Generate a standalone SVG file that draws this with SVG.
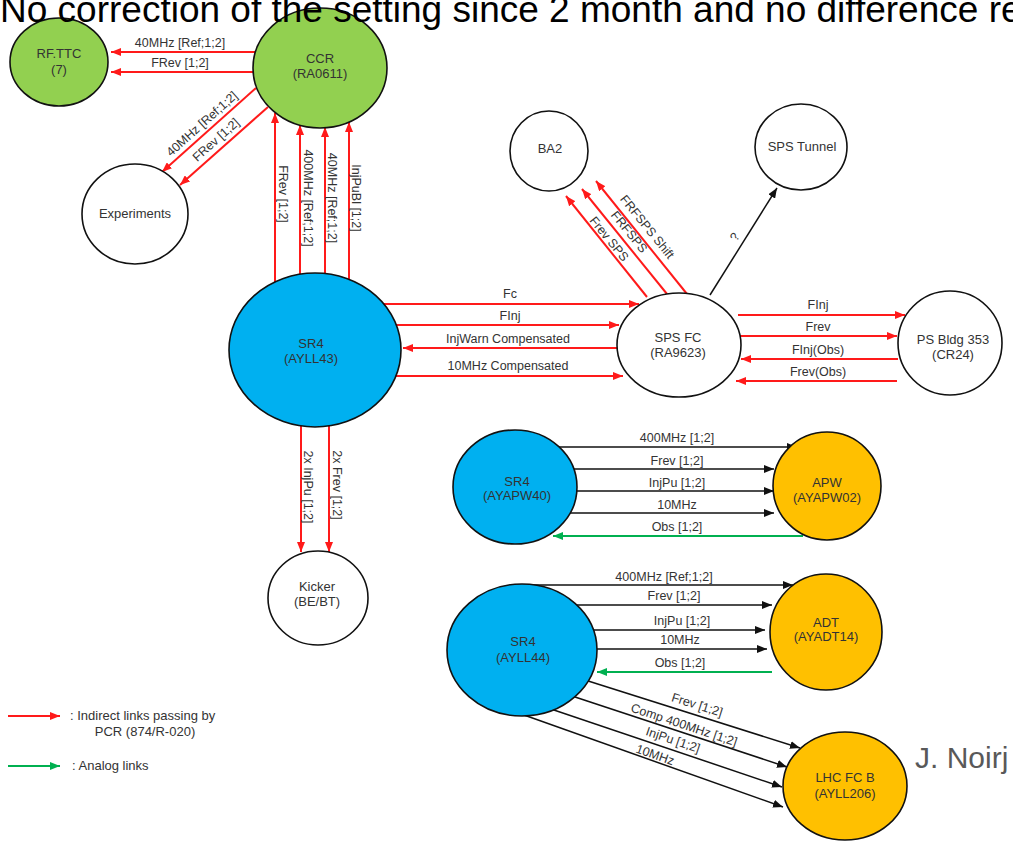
<svg xmlns="http://www.w3.org/2000/svg" width="1013" height="845" viewBox="0 0 1013 845">
<defs>
<marker id="ar" markerUnits="userSpaceOnUse" markerWidth="10" markerHeight="8" refX="10" refY="4" orient="auto"><path d="M0,0 L10,4 L0,8 z" fill="#ff1a1a"/></marker>
<marker id="ab" markerUnits="userSpaceOnUse" markerWidth="10" markerHeight="8" refX="10" refY="4" orient="auto"><path d="M0,0 L10,4 L0,8 z" fill="#111"/></marker>
<marker id="ag" markerUnits="userSpaceOnUse" markerWidth="10" markerHeight="8" refX="10" refY="4" orient="auto"><path d="M0,0 L10,4 L0,8 z" fill="#00b050"/></marker>
<style>
.r{stroke:#ff1a1a;stroke-width:2;fill:none;marker-end:url(#ar)}
.b{stroke:#111;stroke-width:1.5;fill:none;marker-end:url(#ab)}
.g{stroke:#00b050;stroke-width:2;fill:none;marker-end:url(#ag)}
.n{stroke:#111;stroke-width:1.6}
.t{font-family:"Liberation Sans",Arial,sans-serif;font-size:13px;fill:#333;text-anchor:middle}
.l{font-family:"Liberation Sans",Arial,sans-serif;font-size:12.5px;fill:#333;text-anchor:middle}
.lg{font-family:"Liberation Sans",Arial,sans-serif;font-size:13px;fill:#333}
</style>
</defs>
<rect width="1013" height="845" fill="#fff"/>
<g id="connectors">
<line class="r" x1="255" y1="52" x2="111" y2="52"/>
<text class="l" x="180" y="47">40MHz [Ref;1;2]</text>
<line class="r" x1="253" y1="72" x2="111" y2="72"/>
<text class="l" x="180" y="67">FRev [1;2]</text>
<line class="r" x1="256" y1="88" x2="162" y2="172"/>
<text class="l" transform="translate(202,124) rotate(-41.8)" dy="4">40MHz [Ref;1;2]</text>
<line class="r" x1="268" y1="107" x2="180" y2="185"/>
<text class="l" transform="translate(216,140) rotate(-41.8)" dy="4">FRev [1;2]</text>
<line class="r" x1="275" y1="284" x2="275" y2="113"/>
<text class="l" transform="translate(283,194) rotate(90)" dy="4">FRev [1;2]</text>
<line class="r" x1="300" y1="276" x2="300" y2="125"/>
<text class="l" transform="translate(308,198) rotate(90)" dy="4">400MHz [Ref;1;2]</text>
<line class="r" x1="325" y1="276" x2="325" y2="127"/>
<text class="l" transform="translate(332,198) rotate(90)" dy="4">40MHz [Ref;1;2]</text>
<line class="r" x1="349" y1="284" x2="349" y2="122"/>
<text class="l" transform="translate(356,198) rotate(90)" dy="4">InjPuBl [1;2]</text>
<line class="r" x1="372" y1="304" x2="639" y2="304"/>
<text class="l" x="510" y="298">Fc</text>
<line class="r" x1="380" y1="325" x2="619" y2="325"/>
<text class="l" x="510" y="320">FInj</text>
<line class="r" x1="625" y1="348" x2="403" y2="348"/>
<text class="l" x="508" y="343">InjWarn Compensated</text>
<line class="r" x1="380" y1="376" x2="623" y2="376"/>
<text class="l" x="508" y="370">10MHz Compensated</text>
<line class="r" x1="647" y1="297" x2="566" y2="196"/>
<text class="l" transform="translate(609,239) rotate(51)" dy="4">Frev SPS</text>
<line class="r" x1="667" y1="294" x2="582" y2="189"/>
<text class="l" transform="translate(629,232) rotate(51)" dy="4">FRFSPS</text>
<line class="r" x1="687" y1="294" x2="596" y2="181"/>
<text class="l" transform="translate(647,227) rotate(51)" dy="4">FRFSPS Shift</text>
<line class="b" x1="710" y1="295" x2="777" y2="188"/>
<text class="l" transform="translate(735,237) rotate(-58)" dy="4">?</text>
<line class="r" x1="738" y1="315" x2="905" y2="315"/>
<text class="l" x="818" y="309">FInj</text>
<line class="r" x1="740" y1="336" x2="897" y2="336"/>
<text class="l" x="818" y="331">Frev</text>
<line class="r" x1="898" y1="359" x2="741" y2="359"/>
<text class="l" x="818" y="354">FInj(Obs)</text>
<line class="r" x1="897" y1="381" x2="736" y2="381"/>
<text class="l" x="818" y="376">Frev(Obs)</text>
<line class="r" x1="301" y1="420" x2="301" y2="552"/>
<text class="l" transform="translate(308,487) rotate(90)" dy="4">2x InjPu [1;2]</text>
<line class="r" x1="329" y1="420" x2="329" y2="552"/>
<text class="l" transform="translate(337,485) rotate(90)" dy="4">2x Frev [1;2]</text>
<line class="b" x1="556" y1="447" x2="797" y2="447"/>
<text class="l" x="677" y="442">400MHz [1;2]</text>
<line class="b" x1="570" y1="469" x2="774" y2="469"/>
<text class="l" x="677" y="465">Frev [1;2]</text>
<line class="b" x1="572" y1="491" x2="774" y2="491"/>
<text class="l" x="677" y="487">InjPu [1;2]</text>
<line class="b" x1="570" y1="513" x2="774" y2="513"/>
<text class="l" x="677" y="509">10MHz</text>
<line class="g" x1="803" y1="536" x2="553" y2="536"/>
<text class="l" x="677" y="531">Obs [1;2]</text>
<line class="b" x1="517" y1="585" x2="793" y2="585"/>
<text class="l" x="664" y="581">400MHz [Ref;1;2]</text>
<line class="b" x1="570" y1="605" x2="772" y2="605"/>
<text class="l" x="674" y="600">Frev [1;2]</text>
<line class="b" x1="590" y1="630" x2="765" y2="630"/>
<text class="l" x="682" y="625">InjPu [1;2]</text>
<line class="b" x1="592" y1="649" x2="767" y2="649"/>
<text class="l" x="680" y="644">10MHz</text>
<line class="g" x1="772" y1="672" x2="597" y2="672"/>
<text class="l" x="680" y="667">Obs [1;2]</text>
<line class="b" x1="585" y1="680" x2="800" y2="748"/>
<text class="l" transform="translate(697,705) rotate(17.5)" dy="4">Frev [1;2]</text>
<line class="b" x1="572" y1="696" x2="787" y2="767"/>
<text class="l" transform="translate(684,725) rotate(18.3)" dy="4">Comp 400MHz [1;2]</text>
<line class="b" x1="545" y1="707" x2="782" y2="787"/>
<text class="l" transform="translate(673,740) rotate(18.7)" dy="4">InjPu [1;2]</text>
<line class="b" x1="524" y1="715" x2="783" y2="807"/>
<text class="l" transform="translate(655,755) rotate(19.5)" dy="4">10MHz</text>
</g>
<g id="rfttc"><ellipse class="n" cx="59" cy="62" rx="49" ry="44" fill="#92d050"/><text class="t" x="59" y="58">RF.TTC</text><text class="t" x="59" y="74">(7)</text></g>
<g id="ccr"><ellipse class="n" cx="320" cy="68" rx="67" ry="60" fill="#92d050"/><text class="t" x="320" y="63">CCR</text><text class="t" x="320" y="78">(RA0611)</text></g>
<g id="experiments"><ellipse class="n" cx="135" cy="214" rx="53" ry="50" fill="#fff"/><text class="t" x="135" y="218">Experiments</text></g>
<g id="sr4-ayll43"><ellipse class="n" cx="315" cy="350" rx="86" ry="77" fill="#00b0f0"/><text class="t" x="311" y="348">SR4</text><text class="t" x="311" y="363">(AYLL43)</text></g>
<g id="ba2"><ellipse class="n" cx="549" cy="151" rx="39" ry="40" fill="#fff"/><text class="t" x="550" y="153">BA2</text></g>
<g id="sps-tunnel"><ellipse class="n" cx="801" cy="147" rx="46" ry="43" fill="#fff"/><text class="t" x="802" y="151">SPS Tunnel</text></g>
<g id="sps-fc"><ellipse class="n" cx="679" cy="345" rx="62" ry="52" fill="#fff"/><text class="t" x="678" y="342">SPS FC</text><text class="t" x="678" y="357">(RA9623)</text></g>
<g id="ps-bldg"><ellipse class="n" cx="950" cy="343" rx="52" ry="52" fill="#fff"/><text class="t" x="953" y="344">PS Bldg 353</text><text class="t" x="953" y="359">(CR24)</text></g>
<g id="kicker"><ellipse class="n" cx="318" cy="598" rx="50" ry="47" fill="#fff"/><text class="t" x="317" y="591">Kicker</text><text class="t" x="317" y="606">(BE/BT)</text></g>
<g id="sr4-ayapw40"><ellipse class="n" cx="515" cy="487" rx="62" ry="57" fill="#00b0f0"/><text class="t" x="517" y="486">SR4</text><text class="t" x="517" y="500">(AYAPW40)</text></g>
<g id="apw"><ellipse class="n" cx="827" cy="486" rx="54" ry="54" fill="#ffc000"/><text class="t" x="827" y="487">APW</text><text class="t" x="827" y="502">(AYAPW02)</text></g>
<g id="sr4-ayll44"><ellipse class="n" cx="522" cy="650" rx="75" ry="66" fill="#00b0f0"/><text class="t" x="523" y="646">SR4</text><text class="t" x="523" y="662">(AYLL44)</text></g>
<g id="adt"><ellipse class="n" cx="826" cy="632" rx="56" ry="58" fill="#ffc000"/><text class="t" x="826" y="627">ADT</text><text class="t" x="826" y="641">(AYADT14)</text></g>
<g id="lhc-fc-b"><ellipse class="n" cx="845" cy="786" rx="62" ry="54" fill="#ffc000"/><text class="t" x="845" y="782">LHC FC B</text><text class="t" x="845" y="798">(AYLL206)</text></g>
<g id="legend">
<line class="r" x1="8" y1="716" x2="60" y2="716"/>
<text class="lg" x="70" y="720">: Indirect links passing by</text>
<text class="t" x="145" y="736">PCR (874/R-020)</text>
<line class="g" x1="8" y1="766" x2="60" y2="766"/>
<text class="lg" x="72" y="770">: Analog links</text>
</g>
<text x="0" y="22" font-family="Liberation Sans, Arial, sans-serif" font-size="37" fill="#000">No correction of the setting since 2 month and no difference re</text>
<text x="915" y="768" font-family="Liberation Sans, Arial, sans-serif" font-size="30" fill="#595959">J. Noirj</text>
</svg>
